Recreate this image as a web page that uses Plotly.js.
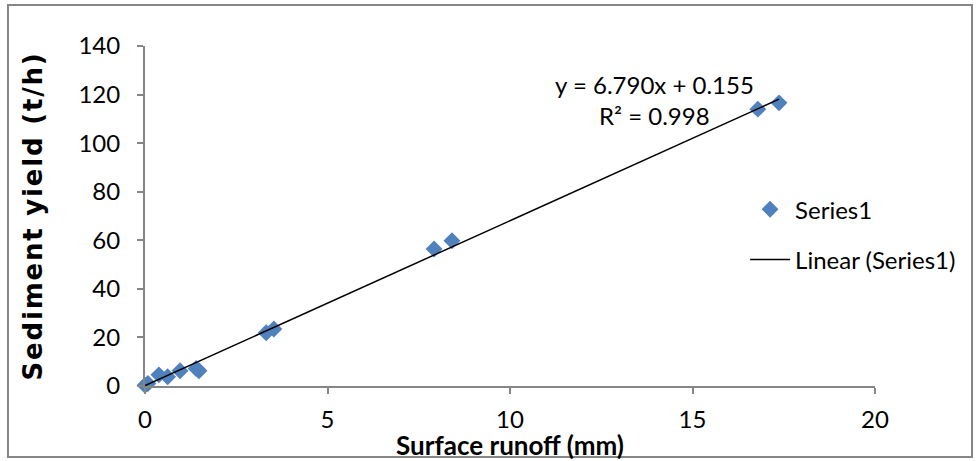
<!DOCTYPE html>
<html>
<head>
<meta charset="utf-8">
<script src="https://cdn.plot.ly/plotly-3.0.1.min.js"></script>
<style>
html,body{margin:0;padding:0;background:#fff}
#chart{width:979px;height:461px}
.ytitle{letter-spacing:1.8px}
</style>
</head>
<body>
<div id="chart"></div>
<script>
// Data
const runoff = [0.0, 0.08, 0.38, 0.62, 0.96, 1.40, 1.48, 3.32, 3.53, 7.92, 8.41, 16.79, 17.37];
const sediment = [0.3, 1.0, 4.6, 3.8, 6.3, 7.2, 6.3, 21.9, 23.5, 56.4, 59.8, 114.0, 116.6];
const slope = 6.790;
const intercept = 0.155;
const r2 = 0.998;
const seriesName = "Series1";
const xTicks = [0, 5, 10, 15, 20];
const yTicks = [0, 20, 40, 60, 80, 100, 120, 140];

const xMin = Math.min(...runoff), xMax = Math.max(...runoff);
const fitX = [xMin, xMax];
const fitY = fitX.map(v => slope * v + intercept);

const FONT = "Lato, 'Liberation Sans', sans-serif";
const YFONT = "'DejaVu Sans', Verdana, sans-serif";

const traces = [
  {
    x: runoff, y: sediment, type: "scatter", mode: "markers", name: seriesName,
    legendgroup: "a", cliponaxis: false,
    marker: {symbol: "diamond", size: 13, color: "#4F81BD", line: {width: 0}},
    hoverinfo: "x+y"
  },
  {
    x: fitX, y: fitY, type: "scatter", mode: "lines", name: "Linear (" + seriesName + ")",
    legendgroup: "b", cliponaxis: false,
    line: {color: "#000000", width: 1.5},
    hoverinfo: "skip"
  }
];

const axisCommon = {
  showgrid: false, zeroline: false, showline: true, linecolor: "#868686", linewidth: 2,
  ticks: "outside", ticklen: 6, tickwidth: 2, tickcolor: "#868686",
  tickfont: {family: FONT, size: 24, color: "#000"}, tickmode: "array"
};

const layout = {
  width: 979, height: 461,
  margin: {l: 145, r: 104, t: 46, b: 75},
  paper_bgcolor: "#fff", plot_bgcolor: "#fff",
  font: {family: FONT, color: "#000"},
  showlegend: true,
  legend: {
    x: 0.822, y: 0.585, xanchor: "left", yanchor: "top",
    font: {family: FONT, size: 24, color: "#000"},
    traceorder: "grouped", tracegroupgap: 16, itemwidth: 40, bgcolor: "rgba(0,0,0,0)"
  },
  xaxis: Object.assign({}, axisCommon, {
    range: [0, 20], tickvals: xTicks, ticktext: xTicks.map(String),
    ticklabelstandoff: 5,
    title: {text: "<b>Surface runoff (mm)</b>", font: {family: FONT, size: 26, color: "#000"}, standoff: 0}
  }),
  yaxis: Object.assign({}, axisCommon, {
    range: [0, 140], tickvals: yTicks, ticktext: yTicks.map(String),
    ticklabelstandoff: 12,
    title: {text: "<b>Sediment yield (t/h)</b>", font: {family: YFONT, size: 26, color: "#000"}, standoff: 28}
  }),
  annotations: [
    {x: 13.95, y: 124.0, xref: "x", yref: "y", showarrow: false,
     text: "y = " + slope.toFixed(3) + "x + " + intercept.toFixed(3),
     font: {family: FONT, size: 24, color: "#000"}},
    {x: 13.95, y: 111.3, xref: "x", yref: "y", showarrow: false,
     text: "R² = " + r2.toFixed(3),
     font: {family: FONT, size: 24, color: "#000"}}
  ],
  shapes: [
    {type: "rect", xref: "paper", yref: "paper", x0: -0.1877, x1: 1.1329, y0: -0.2088, y1: 1.1206,
     line: {color: "#868686", width: 2}, fillcolor: "rgba(0,0,0,0)", layer: "below"}
  ]
};

Plotly.newPlot("chart", traces, layout, {displayModeBar: false, staticPlot: true});
</script>
</body>
</html>
